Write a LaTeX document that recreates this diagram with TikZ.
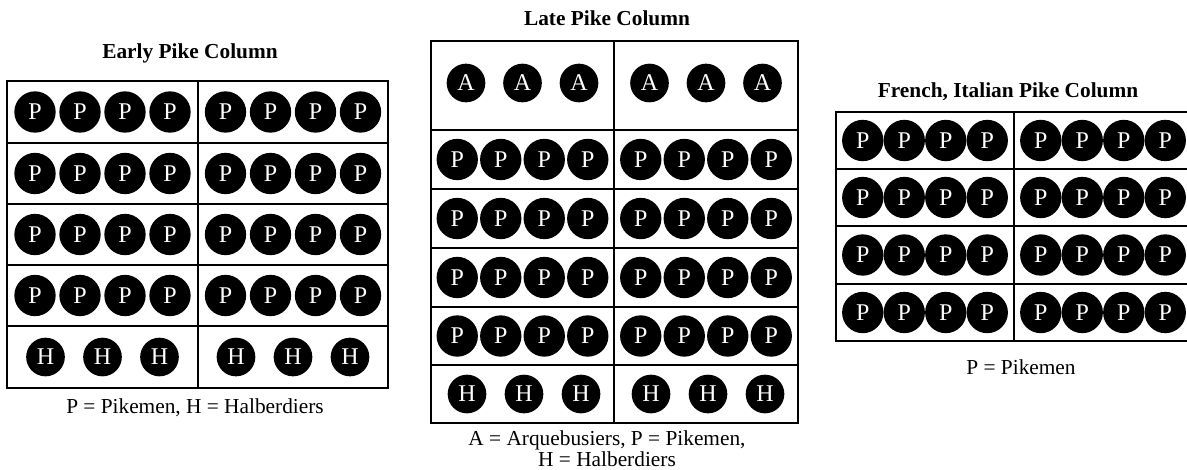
\documentclass[tikz,border=0pt]{standalone}
\usepackage{fontspec}
\setmainfont{Liberation Serif}

\begin{document}
\begin{tikzpicture}[x=0.75pt, y=-0.75pt,
    soldier/.style={circle, fill=black, text=white, inner sep=0pt, minimum size=31pt, font=\fontsize{18}{18}\selectfont},
    loose/.style={soldier, minimum size=29pt},
    grid/.style={line width=1.4pt},
    title/.style={font=\fontsize{16}{19}\selectfont\bfseries},
    legend/.style={font=\fontsize{16}{15.5}\selectfont, align=center}]
    \useasboundingbox (0,0) rectangle (1187,469);
    \clip (0,0) rectangle (1187,469);

    % early pike column
    \node[title] (early) at (190,53) {Early Pike Column};
    \draw[grid] (7,81) rectangle (388,388);
    \foreach \y in {143,204,265,326} \draw[grid] (7,\y) -- (388,\y);
    \draw[grid] (198,81) -- (198,388);
    \foreach \y [count=\r] in {112,173.5,234.5,295.5}
        \foreach \x [count=\c] in {35,80,125,170,225.5,270.5,315.5,360.5}
            \node[soldier] (ep-\r-\c) at (\x,\y) {P};
    \foreach \x [count=\c] in {45.5,102.5,159.5,236,293,350}
        \node[loose] (eh-\c) at (\x,357) {H};
    \node[legend] (early-key) at (195,408) {P = Pikemen, H = Halberdiers};

    % late pike column
    \node[title] (late) at (607,18) {Late Pike Column};
    \draw[grid] (431,41) rectangle (798,423);
    \foreach \y in {130,189,248,307,365} \draw[grid] (431,\y) -- (798,\y);
    \draw[grid] (614,41) -- (614,423);
    \foreach \x [count=\c] in {466,522.5,579,649.5,706,762.5}
        \node[loose] (la-\c) at (\x,83) {A};
    \foreach \y [count=\r] in {159.5,218.5,277.5,336}
        \foreach \x [count=\c] in {457.25,500.75,544.25,587.75,640.75,684.25,727.75,771.25}
            \node[soldier] (lp-\r-\c) at (\x,\y) {P};
    \foreach \x [count=\c] in {467,524,581,651,708,765}
        \node[loose] (lh-\c) at (\x,394) {H};
    \node[legend] (late-key) at (607,449) {A = Arquebusiers, P = Pikemen,\\H = Halberdiers};

    % french, italian pike column
    \node[title] (french) at (1008,92) {French, Italian Pike Column};
    \draw[grid] (836,112) rectangle (1192,341);
    \foreach \y in {169,226,284} \draw[grid] (836,\y) -- (1192,\y);
    \draw[grid] (1014,112) -- (1014,341);
    \foreach \y [count=\r] in {140.5,197.5,255,312.5}
        \foreach \x [count=\c] in {862.75,904.25,945.75,987.25,1040.75,1082.25,1123.75,1165.25}
            \node[soldier] (fp-\r-\c) at (\x,\y) {P};
    \node[legend] (french-key) at (1021,367) {P = Pikemen};
\end{tikzpicture}
\end{document}
